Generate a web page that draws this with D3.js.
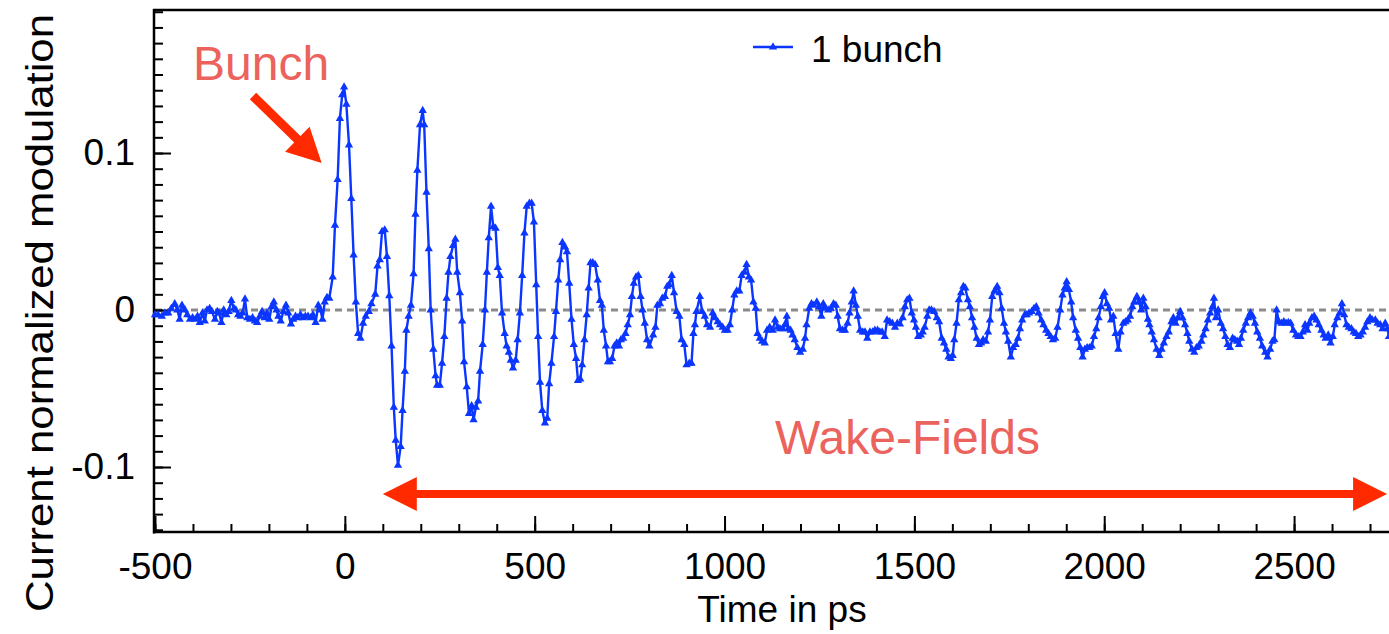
<!DOCTYPE html>
<html><head><meta charset="utf-8">
<script src="https://cdn.jsdelivr.net/npm/d3@7"></script>
<style>
body{margin:0;background:#fff}
svg{display:block}
text{font-family:"Liberation Sans",Arial,Helvetica,sans-serif}
</style>
</head><body>
<svg id="chart" width="1389" height="634"></svg>
<script>
// ---------------- data ----------------
const xMajorTicks = [-500, 0, 500, 1000, 1500, 2000, 2500];
const xTickLabels = ["-500", "0", "500", "1000", "1500", "2000", "2500"];
const yMajorTicks = [-0.1, 0, 0.1];
const yTickLabels = ["-0.1", "0", "0.1"];
const seriesName = "1 bunch";
const xTitle = "Time in ps";
const yTitle = "Current normalized modulation";

// [time in ps, current normalized modulation]
const oneBunch = [
[-500,-0.003],[-492,-0.003],[-482,-0.004],[-474,-0.002],[-465,-0.002],[-457,0.001],[-448,0.004],[-441,0.0],
[-435,-0.006],[-429,0.003],[-421,0.0],[-415,-0.003],[-408,-0.006],[-401,-0.005],[-394,-0.006],[-388,-0.004],
[-382,-0.008],[-375,-0.002],[-369,-0.007],[-363,0.0],[-356,0.001],[-350,-0.001],[-342,-0.006],[-336,-0.001],
[-331,-0.002],[-325,-0.008],[-319,0.0],[-312,-0.003],[-306,-0.001],[-299,0.006],[-292,0.001],[-287,0.0],
[-281,-0.003],[-275,-0.004],[-269,-0.002],[-263,0.007],[-257,-0.005],[-250,-0.006],[-243,-0.005],[-237,-0.007],
[-231,-0.008],[-224,-0.004],[-218,-0.001],[-211,-0.005],[-205,-0.002],[-199,-0.006],[-193,0.002],[-187,0.005],
[-180,0.0],[-175,-0.004],[-169,-0.007],[-162,-0.001],[-155,0.003],[-149,-0.002],[-142,-0.009],[-136,-0.006],
[-130,-0.004],[-124,-0.005],[-117,-0.003],[-110,-0.005],[-104,-0.004],[-97,-0.004],[-90,-0.005],[-84,-0.003],
[-77,-0.008],[-70,0.003],[-64,0.0],[-59,-0.006],[-53,0.005],[-47,0.008],
[-41,0.0075],[-32,0.021],[-26,0.054],[-19,0.083],[-13,0.122],[-7,0.137],[-2,0.142],[4,0.131],[11,0.105],
[17,0.071],[23,0.035],[29,0.005],[35,-0.015],[41,-0.018],[48,-0.0085],[55,-0.004],[63,-0.001],[70,0.004],
[80,0.010],[86,0.028],[92,0.032],[98,0.050],[105,0.051],[111,0.034],[117,0.009],[123,-0.023],[129,-0.062],
[134,-0.083],[140,-0.099],[147,-0.087],[152,-0.064],[158,-0.039],[162,-0.013],[168,-0.004],[174,0.003],
[181,0.023],[186,0.061],[191,0.089],[198,0.118],[205,0.127],[209,0.118],[215,0.075],[221,0.039],[226,0.0],
[233,-0.025],[239,-0.042],[243,-0.048],[250,-0.048],[256,-0.034],[262,-0.017],[268,0.0075],[273,0.024],
[278,0.034],[285,0.041],[291,0.045],[296,0.024],[303,0.011],[309,-0.007],[314,-0.033],[321,-0.049],
[327,-0.066],[334,-0.061],[339,-0.070],[345,-0.062],[351,-0.058],[356,-0.039],[363,-0.022],[369,0.0],
[374,0.024],[379,0.046],[385,0.066],[391,0.053],[397,0.052],[403,0.027],[408,0.022],[414,-0.002],
[421,-0.015],[426,-0.023],[432,-0.027],[437,-0.032],[443,-0.037],[450,-0.032],[455,-0.019],[461,-0.002],
[467,0.022],[473,0.049],[479,0.066],[486,0.068],[492,0.068],[498,0.056],[504,0.016],[509,-0.017],
[514,-0.046],[520,-0.064],[527,-0.072],[533,-0.069],[538,-0.047],[544,-0.034],[551,-0.017],[556,-0.001],
[562,0.019],[567,0.032],[573,0.043],[580,0.040],[585,0.037],[591,0.017],[597,-0.006],[603,-0.022],
[609,-0.031],[614,-0.045],[620,-0.044],[625,-0.035],[631,-0.019],[637,-0.003],[642,0.014],[647,0.030],
[653,0.030],[659,0.029],[666,0.019],[672,0.006],[677,0.003],[682,-0.013],[688,-0.023],[693,-0.033],
[698,-0.033],[704,-0.031],[710,-0.023],[716,-0.021],[722,-0.023],[727,-0.019],[733,-0.018],[739,-0.015],
[745,-0.0095],[751,-0.003],[756,0.0085],[761,0.017],[767,0.021],[773,0.022],[779,0.0085],[784,0.0],
[790,-0.0085],[796,-0.019],[802,-0.023],
[812,-0.016],[818,-0.011],[823,0.003],[830,0.004],[836,0.0075],[843,0.0085],[849,0.015],[854,0.016],
[861,0.022],[867,0.011],[874,-0.001],[881,-0.004],[887,-0.019],[894,-0.022],[900,-0.035],[907,-0.034],
[913,-0.034],[918,-0.015],[922,-0.0095],[926,-0.001],[935,0.0085],[941,-0.001],[948,-0.004],[954,-0.0095],
[962,-0.011],[969,-0.002],[975,-0.005],[982,-0.0075],[988,-0.0095],[995,-0.011],[1001,-0.013],[1008,-0.013],
[1014,-0.0095],[1020,0.0],[1026,0.0095],[1032,0.012],[1039,0.012],[1045,0.022],[1052,0.024],[1058,0.029],
[1064,0.021],[1070,0.019],[1076,0.005],[1082,0.001],[1087,-0.015],[1093,-0.018],[1099,-0.020],[1106,-0.021],
[1112,-0.013],[1119,-0.011],[1127,-0.013],[1133,-0.0064],[1140,-0.011],[1146,-0.012],[1153,-0.012],[1159,-0.0095],
[1164,-0.004],[1168,-0.012],[1174,-0.013],[1179,-0.016],[1185,-0.019],[1192,-0.024],[1199,-0.027],[1206,-0.025],
[1212,-0.018],[1216,-0.0095],[1223,0.001],[1229,0.004],[1235,0.003],[1243,0.005],[1249,0.002],[1255,-0.004],
[1260,0.004],[1266,0.001],[1273,0.0],[1280,0.001],[1287,0.004],[1293,0.003],[1298,-0.004],[1304,-0.012],
[1311,-0.013],[1317,-0.013],[1324,-0.0085],[1329,-0.002],[1335,0.005],[1340,0.012],[1346,0.003],[1351,-0.004],
[1357,-0.013],[1364,-0.014],[1370,-0.014],[1376,-0.018],[1383,-0.014],[1390,-0.014],[1396,-0.013],[1403,-0.013],
[1409,-0.014],[1415,-0.014],[1422,-0.017],[1428,-0.0064],[1435,-0.0075],[1442,-0.0085],[1449,-0.011],[1455,-0.0085],
[1462,-0.009],
[1469,-0.005],[1475,0.002],[1481,0.0064],[1487,0.0075],[1493,-0.002],[1499,-0.0064],[1504,-0.011],[1510,-0.017],
[1517,-0.016],[1522,-0.014],[1527,-0.011],[1534,-0.004],[1539,0.0],[1545,0.0],[1552,-0.001],[1559,-0.005],
[1565,-0.0075],[1572,-0.018],[1578,-0.021],[1584,-0.025],[1590,-0.030],[1596,-0.031],[1601,-0.029],[1605,-0.019],
[1611,-0.0085],[1617,0.0064],[1623,0.011],[1629,0.015],[1634,0.014],[1641,0.0064],[1646,0.002],[1652,-0.005],
[1658,-0.011],[1664,-0.018],[1670,-0.022],[1676,-0.021],[1681,-0.019],[1688,-0.020],[1694,-0.014],[1699,-0.0064],
[1705,0.0085],[1711,0.012],[1718,0.015],[1724,0.011],[1730,0.001],[1736,-0.0085],[1741,-0.014],[1747,-0.020],
[1754,-0.030],[1760,-0.024],[1767,-0.022],[1773,-0.018],[1778,-0.012],[1784,-0.0064],[1791,-0.003],[1796,-0.003],
[1802,-0.002],[1809,-0.001],[1815,0.001],[1821,0.002],[1827,-0.002],[1834,-0.0064],[1840,-0.0095],[1847,-0.013],
[1853,-0.015],[1859,-0.017],[1865,-0.019],[1871,-0.018],[1877,-0.011],[1884,0.0],[1890,0.0095],[1896,0.014],
[1901,0.018],[1907,0.013],[1913,0.005],[1918,-0.005],[1925,-0.013],[1931,-0.018],[1937,-0.024],[1943,-0.030],
[1949,-0.025],[1955,-0.024],[1961,-0.024],[1967,-0.023],[1973,-0.017],[1979,-0.012],[1985,-0.005],[1991,0.002],
[1996,0.0085],[2001,0.011],[2007,0.004],[2013,0.001],[2018,-0.0064],[2024,-0.004],[2030,-0.015],[2037,-0.025],
[2043,-0.014],[2050,-0.0085],[2056,-0.0075],[2062,-0.0064],[2068,-0.004],[2074,0.002],[2079,0.005],[2086,0.0085],
[2092,0.005],[2097,0.0],[2103,0.0075],[2109,0.002],[2115,-0.006],
[2119,-0.0095],[2125,-0.014],[2131,-0.019],[2138,-0.025],[2145,-0.029],[2151,-0.025],[2157,-0.021],[2164,-0.017],
[2170,-0.014],[2177,-0.0075],[2182,-0.005],[2188,-0.0085],[2194,-0.005],[2200,-0.001],[2206,-0.005],[2213,-0.0095],
[2219,-0.015],[2224,-0.020],[2231,-0.025],[2237,-0.027],[2243,-0.024],[2249,-0.023],[2256,-0.020],[2261,-0.016],
[2267,-0.012],[2273,-0.0064],[2279,-0.002],[2285,0.002],[2289,0.0075],[2294,-0.005],[2300,0.0],[2307,-0.0085],
[2313,-0.012],[2319,-0.017],[2325,-0.022],[2331,-0.024],[2338,-0.018],[2344,-0.019],[2350,-0.020],[2355,-0.022],
[2360,-0.018],[2366,-0.013],[2373,-0.0085],[2379,-0.005],[2385,-0.002],[2391,-0.004],[2397,-0.0085],[2403,-0.014],
[2410,-0.018],[2416,-0.023],[2424,-0.027],[2430,-0.030],[2437,-0.025],[2443,-0.020],[2448,-0.019],[2454,0.0],
[2460,-0.0075],[2467,-0.0085],[2473,-0.0075],[2479,-0.0085],[2485,-0.008],[2491,-0.0085],[2498,-0.013],[2505,-0.016],
[2511,-0.017],[2517,-0.017],[2523,-0.014],[2529,-0.0095],[2535,-0.013],[2540,-0.0085],[2547,-0.005],[2553,-0.004],
[2559,-0.0064],[2565,-0.0095],[2572,-0.013],[2578,-0.016],[2583,-0.018],[2590,-0.016],[2596,-0.021],[2602,-0.017],
[2607,-0.0095],[2614,-0.005],[2620,-0.002],[2626,0.004],[2632,-0.003],[2638,-0.0095],[2644,-0.011],[2651,-0.012],
[2657,-0.014],[2663,-0.015],[2669,-0.017],[2675,-0.016],[2681,-0.014],[2687,-0.011],[2693,-0.0075],[2700,-0.005],
[2706,-0.0064],[2714,-0.0064],[2720,-0.0085],[2727,-0.0095],[2733,-0.012],[2740,-0.0085],[2746,-0.012],[2750,-0.017]
];

// annotations (data coordinates)
const bunchLabel = {text: "Bunch", t: -400, v: 0.1465};
const bunchArrow = {from: [-242, 0.1363], to: [-61, 0.0936]};
const wakeLabel = {text: "Wake-Fields", t: 1133, v: -0.0915};
const wakeArrow = {from: [100, -0.1172], to: [2745, -0.1172]};

// ---------------- drawing ----------------
const svg = d3.select("#chart");
const x = d3.scaleLinear().domain([-500, 2750]).range([155, 1389]);
const y = d3.scaleLinear().domain([-0.1414, 0.1911]).range([532, 10]);
const FS = 37;
const BLUE = "#0a36ff";
const RED = "#ff2a00";
const SALMON = "#ec625c";

// zero reference line
svg.append("line")
  .attr("x1", x(-500)).attr("x2", x(2750))
  .attr("y1", y(0)).attr("y2", y(0))
  .attr("stroke", "#8a8a8a").attr("stroke-width", 3)
  .attr("stroke-dasharray", "7,5");

// x axis minor + major
const gx = svg.append("g").attr("transform", `translate(0,${y.range()[0]})`);
gx.call(d3.axisBottom(x).tickValues(d3.range(-500, 2751, 100)).tickSize(-8).tickFormat(""));
const gxM = svg.append("g").attr("transform", `translate(0,${y.range()[0]})`);
gxM.call(d3.axisBottom(x).tickValues(xMajorTicks).tickSize(-16).tickPadding(21)
  .tickFormat((d, i) => xTickLabels[i]));
// y axis minor + major
const gy = svg.append("g").attr("transform", `translate(${x.range()[0] - 1},0)`);
gy.call(d3.axisLeft(y).tickValues(d3.range(-14, 20).map(k => k / 100)).tickSize(-9).tickFormat(""));
const gyM = svg.append("g").attr("transform", `translate(${x.range()[0] - 1},0)`);
gyM.call(d3.axisLeft(y).tickValues(yMajorTicks).tickSize(-17).tickPadding(19)
  .tickFormat((d, i) => yTickLabels[i]));

svg.selectAll(".domain").remove();
svg.selectAll(".tick line").attr("stroke", "#000").attr("stroke-width", 2);
svg.selectAll(".tick text").attr("font-size", FS).attr("fill", "#000")
  .attr("font-family", '"Liberation Sans", Arial, sans-serif');

// frame lines
svg.append("line").attr("x1", 154).attr("x2", 154).attr("y1", 9).attr("y2", 533.5)
  .attr("stroke", "#000").attr("stroke-width", 2.5);
svg.append("line").attr("x1", 153).attr("x2", 1389).attr("y1", 532).attr("y2", 532)
  .attr("stroke", "#000").attr("stroke-width", 2.5);
svg.append("line").attr("x1", 153).attr("x2", 1389).attr("y1", 10).attr("y2", 10)
  .attr("stroke", "#000").attr("stroke-width", 2.5);

// axis titles
svg.append("text").attr("x", 782).attr("y", 622).attr("text-anchor", "middle")
  .attr("font-size", FS).text(xTitle);
svg.append("text").attr("transform", "translate(53,313) rotate(-90)").attr("text-anchor", "middle")
  .attr("font-size", 38).attr("textLength", 598).attr("lengthAdjust", "spacingAndGlyphs")
  .text(yTitle);

// series
const line = d3.line().x(d => x(d[0])).y(d => y(d[1]));
svg.append("path").datum(oneBunch).attr("d", line)
  .attr("fill", "none").attr("stroke", BLUE).attr("stroke-width", 2.4).attr("stroke-linejoin", "round");
const tri = d3.symbol().type(d3.symbolTriangle).size(30);
svg.append("g").selectAll("path").data(oneBunch).join("path")
  .attr("d", tri).attr("transform", d => `translate(${x(d[0])},${y(d[1])})`)
  .attr("fill", BLUE);

// legend
svg.append("line").attr("x1", 753).attr("x2", 793).attr("y1", 47).attr("y2", 47)
  .attr("stroke", BLUE).attr("stroke-width", 2.4);
svg.append("path").attr("d", tri).attr("transform", "translate(773,47)").attr("fill", BLUE);
svg.append("text").attr("x", 811).attr("y", 62).attr("font-size", FS).text(seriesName);

// arrows
function arrowPoly(p0, p1, shaftW, headL, headW) {
  const dx = p1[0] - p0[0], dy = p1[1] - p0[1];
  const L = Math.hypot(dx, dy), ux = dx / L, uy = dy / L, nx = -uy, ny = ux;
  const bx = p1[0] - ux * headL, by = p1[1] - uy * headL;
  return [
    [p0[0] + nx * shaftW / 2, p0[1] + ny * shaftW / 2],
    [bx + nx * shaftW / 2, by + ny * shaftW / 2],
    [bx + nx * headW / 2, by + ny * headW / 2],
    p1,
    [bx - nx * headW / 2, by - ny * headW / 2],
    [bx - nx * shaftW / 2, by - ny * shaftW / 2],
    [p0[0] - nx * shaftW / 2, p0[1] - ny * shaftW / 2]
  ];
}
function doubleArrowPoly(p0, p1, shaftW, headL, headW) {
  const dx = p1[0] - p0[0], dy = p1[1] - p0[1];
  const L = Math.hypot(dx, dy), ux = dx / L, uy = dy / L, nx = -uy, ny = ux;
  const b1x = p1[0] - ux * headL, b1y = p1[1] - uy * headL;
  const b0x = p0[0] + ux * headL, b0y = p0[1] + uy * headL;
  return [
    p0,
    [b0x + nx * headW / 2, b0y + ny * headW / 2],
    [b0x + nx * shaftW / 2, b0y + ny * shaftW / 2],
    [b1x + nx * shaftW / 2, b1y + ny * shaftW / 2],
    [b1x + nx * headW / 2, b1y + ny * headW / 2],
    p1,
    [b1x - nx * headW / 2, b1y - ny * headW / 2],
    [b1x - nx * shaftW / 2, b1y - ny * shaftW / 2],
    [b0x - nx * shaftW / 2, b0y - ny * shaftW / 2],
    [b0x - nx * headW / 2, b0y - ny * headW / 2]
  ];
}
const toPx = p => [x(p[0]), y(p[1])];
svg.append("polygon")
  .attr("points", arrowPoly(toPx(bunchArrow.from), toPx(bunchArrow.to), 9, 34, 35).map(p => p.join(",")).join(" "))
  .attr("fill", RED);
svg.append("polygon")
  .attr("points", doubleArrowPoly(toPx(wakeArrow.from), toPx(wakeArrow.to), 8, 34, 34).map(p => p.join(",")).join(" "))
  .attr("fill", RED);

// annotation labels
svg.append("text").attr("x", x(bunchLabel.t)).attr("y", y(bunchLabel.v))
  .attr("font-size", 48).attr("fill", SALMON).text(bunchLabel.text);
svg.append("text").attr("x", x(wakeLabel.t)).attr("y", y(wakeLabel.v))
  .attr("font-size", 48).attr("fill", SALMON).text(wakeLabel.text);
</script>
</body></html>
